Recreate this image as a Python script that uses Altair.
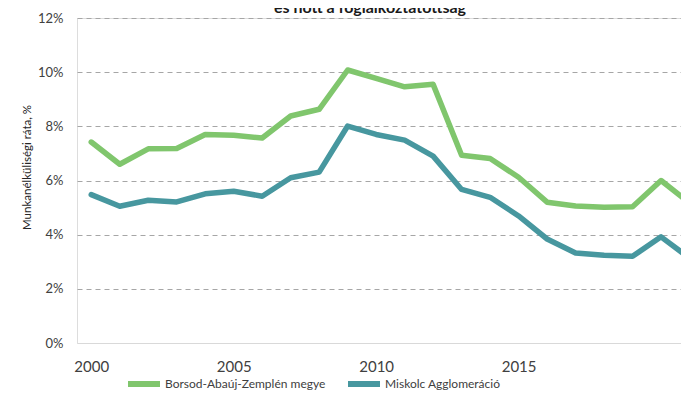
import altair as alt
import pandas as pd

years = list(range(2000, 2022))
baz = [7.42, 6.60, 7.17, 7.18, 7.70, 7.67, 7.57, 8.38, 8.63, 10.08, 9.77, 9.46,
       9.55, 6.93, 6.81, 6.12, 5.20, 5.06, 5.01, 5.03, 6.00, 5.17]
miskolc = [5.48, 5.05, 5.27, 5.21, 5.51, 5.60, 5.42, 6.10, 6.31, 8.01, 7.70, 7.49,
           6.90, 5.67, 5.38, 4.69, 3.84, 3.32, 3.24, 3.20, 3.92, 3.13]
series_names = ["Borsod-Abaúj-Zemplén megye", "Miskolc Agglomeráció"]
colors = ["#80C66D", "#47979F"]
x_ticks = [2000, 2005, 2010, 2015]
y_ticks = [0, 2, 4, 6, 8, 10, 12]
title_text = "és nőtt a foglalkoztatottság"
y_title = "Munkanélküliségi ráta, %"

rows = []
for name, vals in zip(series_names, [baz, miskolc]):
    for yr, v in zip(years, vals):
        rows.append({"year": yr, "value": v, "series": name})
df = pd.DataFrame(rows)

FONT = "Lato"

lines = alt.Chart(df).mark_line(
    strokeWidth=5.5, strokeJoin="round", strokeCap="round", clip=True
).encode(
    x=alt.X(
        "year:Q",
        scale=alt.Scale(domain=[1999.5, 2020.7], nice=False, zero=False),
        axis=alt.Axis(
            values=x_ticks, format="d", title=None, grid=False, domain=False,
            ticks=False, labelFontSize=15, labelColor="#404040",
            labelPadding=16, labelFont=FONT, labelFlush=False,
        ),
    ),
    y=alt.Y(
        "value:Q",
        scale=alt.Scale(domain=[0, 12], nice=False),
        axis=alt.Axis(
            values=y_ticks, labelExpr="datum.value + '%'", title=y_title,
            titleFont=FONT, titleFontSize=11.5, titleFontWeight="normal",
            titleColor="#262626", titleX=-50, titleY=149, titleAlign="center",
            titleBaseline="middle", titleAngle=270,
            labelFont=FONT, labelFontSize=13, labelColor="#404040",
            labelPadding=14, domain=False, ticks=False, grid=True,
            gridColor={"condition": {"test": "datum.value === 0", "value": "#d9d9d9"}, "value": "#a6a6a6"},
            gridDash={"condition": {"test": "datum.value === 0", "value": []}, "value": [5, 4]},
            gridWidth=1,
        ),
    ),
    color=alt.Color(
        "series:N",
        scale=alt.Scale(domain=series_names, range=colors),
        legend=alt.Legend(
            title=None, orient="none", direction="horizontal",
            legendX=48, legendY=347, symbolType="stroke", symbolSize=1024,
            symbolStrokeWidth=6, labelFont=FONT, labelFontSize=12,
            labelColor="#404040", labelOffset=2, columnPadding=10,
            labelLimit=400,
        ),
    ),
)

title = alt.Chart(pd.DataFrame({"t": [title_text]})).mark_text(
    font=FONT, fontSize=16, fontWeight="bold", color="#1a1a1a",
    align="center", baseline="alphabetic",
).encode(text="t:N", x=alt.value(293), y=alt.value(-5))

chart = alt.layer(lines, title).properties(
    width=604, height=325,
    padding={"left": 69, "top": 10, "right": 0, "bottom": 47},
    autosize=alt.AutoSizeParams(type="none"),
).configure_view(stroke=None).configure(background="white")

chart.save("out.html", embed_options={"renderer": "svg", "actions": False})
